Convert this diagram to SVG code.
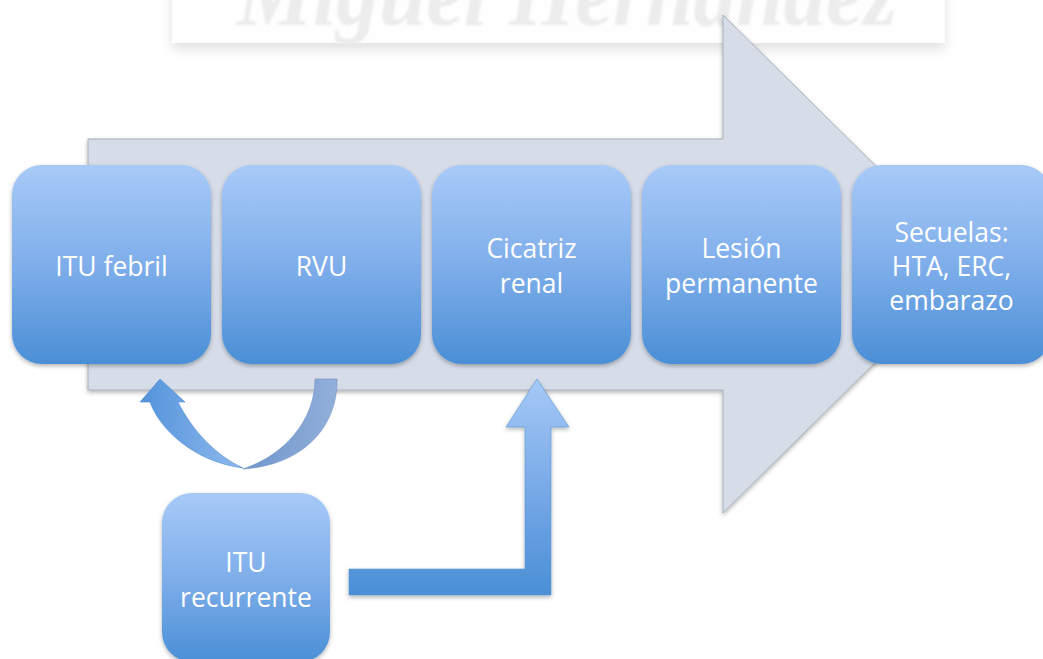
<svg xmlns="http://www.w3.org/2000/svg" width="1043" height="659" viewBox="0 0 1043 659">
<defs>
<linearGradient id="boxGrad" x1="0" y1="0" x2="0" y2="1">
<stop offset="0" stop-color="#a8caf8"/>
<stop offset="0.5" stop-color="#7faeea"/>
<stop offset="1" stop-color="#4a8fd6"/>
</linearGradient>
<linearGradient id="elbowGrad" gradientUnits="userSpaceOnUse" x1="0" y1="379" x2="0" y2="595">
<stop offset="0" stop-color="#a6c9f7"/>
<stop offset="0.55" stop-color="#74a7e6"/>
<stop offset="1" stop-color="#4a8fd6"/>
</linearGradient>
<linearGradient id="leftBand" gradientUnits="userSpaceOnUse" x1="140" y1="0" x2="243" y2="0">
<stop offset="0" stop-color="#5393db"/>
<stop offset="1" stop-color="#8fb9ee"/>
</linearGradient>
<linearGradient id="rightBand" gradientUnits="userSpaceOnUse" x1="243" y1="0" x2="337" y2="0">
<stop offset="0" stop-color="#6e95cc"/>
<stop offset="1" stop-color="#92afd9"/>
</linearGradient>
<filter id="shadow" x="-10%" y="-10%" width="120%" height="125%">
<feDropShadow dx="0" dy="2" stdDeviation="2" flood-color="#000" flood-opacity="0.3"/>
</filter>
<filter id="wmShadow" x="-5%" y="-50%" width="110%" height="200%">
<feDropShadow dx="0" dy="6" stdDeviation="6" flood-color="#000" flood-opacity="0.12"/>
</filter>
<filter id="soft" x="-5%" y="-20%" width="110%" height="140%">
<feGaussianBlur stdDeviation="1.2"/>
</filter>
<style>
.box { fill: url(#boxGrad); filter: url(#shadow); }
.lbl { font-family: "Open Sans", "Noto Sans", sans-serif; font-size: 26.5px; fill: #ffffff; text-anchor: middle; }
.wm { font-family: "Liberation Serif", serif; font-style: italic; font-weight: bold; font-size: 92px; fill: #ececec; }
</style>
</defs>
<rect width="1043" height="659" fill="#ffffff"/>

<g id="watermark">
<rect x="172" y="-20" width="773" height="63" fill="#fefefe" filter="url(#wmShadow)"/>
<text class="wm" x="237" y="25" textLength="660" lengthAdjust="spacingAndGlyphs" filter="url(#soft)">Miguel Hernández</text>
</g>

<g id="big-arrow">
<path d="M88,139 L723,139 L723,15 L975,264 L723,513 L723,390 L88,390 Z" fill="#d6dde9" stroke="#a8afba" stroke-width="1" filter="url(#shadow)"/>
</g>

<g id="connectors">
<path d="M140,402 L160,379 L185,402 L178,402 C192,430 215,455 243,468 C195,462 160,430 150,402 Z" fill="url(#leftBand)" stroke="#4d88cc" stroke-width="0.6"/>
<path d="M315,379 L337,379 C338,425 305,465 243,469 C285,455 315,420 315,379 Z" fill="url(#rightBand)" stroke="#6b8fc2" stroke-width="0.6"/>
<path d="M349,569 L525,569 L525,427 L506,427 L537,379 L569,427 L551,427 L551,595 L349,595 Z" fill="url(#elbowGrad)" stroke="#5a93d4" stroke-width="0.6" filter="url(#shadow)"/>
</g>

<g id="node-itu-febril">
<rect class="box" x="12" y="165" width="199" height="199" rx="30"/>
<text class="lbl" x="111.5" y="276">ITU febril</text>
</g>
<g id="node-rvu">
<rect class="box" x="222" y="165" width="199" height="199" rx="30"/>
<text class="lbl" x="321.5" y="276">RVU</text>
</g>
<g id="node-cicatriz">
<rect class="box" x="432" y="165" width="199" height="199" rx="30"/>
<text class="lbl" x="531.5" y="258">Cicatriz</text>
<text class="lbl" x="531.5" y="293">renal</text>
</g>
<g id="node-lesion">
<rect class="box" x="642" y="165" width="199" height="199" rx="30"/>
<text class="lbl" x="741.5" y="258">Lesión</text>
<text class="lbl" x="741.5" y="293">permanente</text>
</g>
<g id="node-secuelas">
<rect class="box" x="852" y="165" width="199" height="199" rx="30"/>
<text class="lbl" x="951.5" y="242">Secuelas:</text>
<text class="lbl" x="951.5" y="276">HTA, ERC,</text>
<text class="lbl" x="951.5" y="310">embarazo</text>
</g>
<g id="node-itu-recurrente">
<rect class="box" x="162" y="493" width="168" height="169" rx="30"/>
<text class="lbl" x="246" y="572">ITU</text>
<text class="lbl" x="246" y="607">recurrente</text>
</g>
</svg>
